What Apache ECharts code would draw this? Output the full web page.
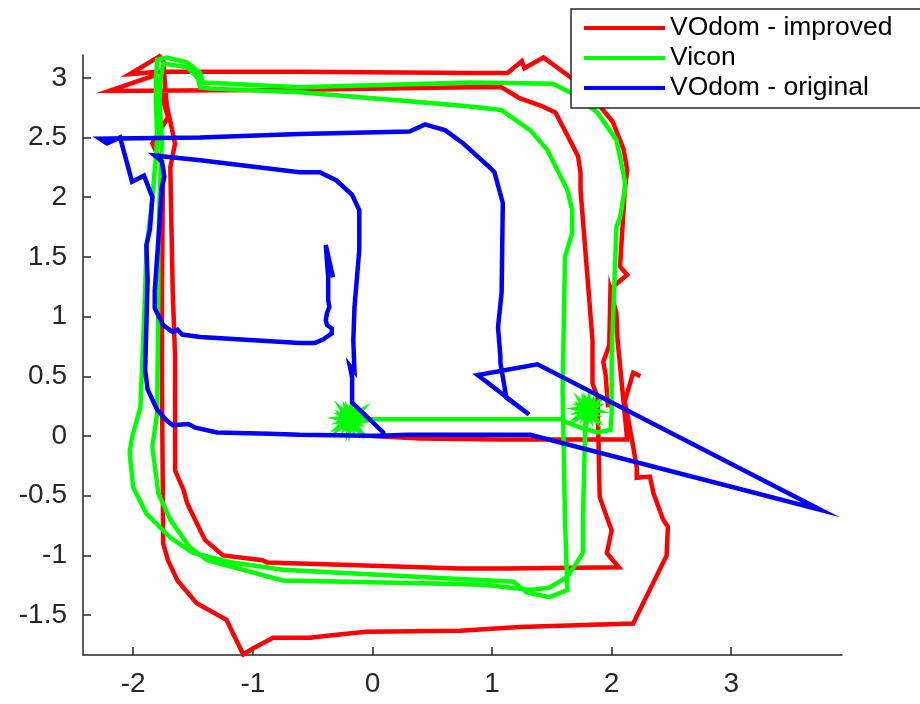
<!DOCTYPE html>
<html>
<head>
<meta charset="utf-8">
<script src="https://cdn.jsdelivr.net/npm/echarts@6/dist/echarts.min.js"></script>
<style>
  html, body { margin: 0; padding: 0; background: #fff; }
  #chart { width: 920px; height: 704px; }
</style>
</head>
<body>
<div id="chart"></div>
<script>
// Trajectory names, in legend order
const seriesNames = ['VOdom - improved', 'Vicon', 'VOdom - original'];

// Tick values on both axes
const xTicks = [-2, -1, 0, 1, 2, 3];
const yTicks = [-1.5, -1, -0.5, 0, 0.5, 1, 1.5, 2, 2.5, 3];

// Visual odometry with the improved pipeline, [x, y] in metres
const vodomImproved = [
  [0.00, 0.00], [0.40, -0.02], [1.07, -0.03], [1.61, -0.03], [2.13, -0.03],
  [2.05, 0.80], [2.04, 1.03], [1.99, 1.22], [1.98, 0.76], [1.93, 0.62],
  [1.95, 0.51], [1.97, 0.24], [1.95, 0.51], [1.93, 0.62], [1.98, 0.76],
  [2.00, 1.24], [2.13, 1.35], [2.07, 1.42],
  [2.11, 2.06], [2.13, 2.23], [2.10, 2.40], [2.01, 2.63], [1.88, 2.79],
  [1.65, 3.01], [1.43, 3.17], [1.27, 3.08], [1.25, 3.14], [1.13, 3.04],
  [0.82, 3.04], [-0.61, 3.05], [-1.75, 3.05], [-1.80, 3.05], [-2.03, 3.03],
  [-1.78, 3.18], [-1.75, 3.15], [-1.72, 2.77], [-1.65, 2.45], [-1.69, 2.25],
  [-1.68, 1.73], [-1.67, 1.22], [-1.65, 0.66], [-1.65, -0.29], [-1.58, -0.45],
  [-1.55, -0.56], [-1.44, -0.79], [-1.40, -0.87], [-1.25, -1.00], [-0.92, -1.04],
  [-0.88, -1.06], [-0.19, -1.08], [0.73, -1.11], [1.13, -1.11], [2.06, -1.10],
  [1.96, -0.98], [2.00, -0.79], [1.96, -0.68], [1.90, -0.51], [1.89, -0.03],
  [1.88, 0.33], [1.84, 0.44], [1.84, 0.53], [1.84, 0.80], [1.74, 2.06],
  [1.74, 2.20], [1.72, 2.34], [1.65, 2.48], [1.53, 2.71], [1.40, 2.77],
  [1.23, 2.83], [1.08, 2.92], [0.82, 2.92], [-0.61, 2.90], [-2.20, 2.89],
  [-1.82, 3.02], [-1.78, 2.92], [-1.71, 2.67], [-1.84, 2.45], [-1.75, 2.25],
  [-1.76, 1.22], [-1.76, 0.47], [-1.75, -0.79], [-1.75, -0.90], [-1.71, -1.04],
  [-1.63, -1.21], [-1.58, -1.27], [-1.47, -1.40], [-1.22, -1.54], [-1.08, -1.83],
  [-1.00, -1.78], [-0.83, -1.69], [-0.52, -1.69], [-0.36, -1.67], [-0.05, -1.64],
  [0.73, -1.63], [1.23, -1.60], [2.18, -1.57], [2.46, -1.00], [2.47, -0.76],
  [2.43, -0.70], [2.35, -0.48], [2.32, -0.34], [2.21, -0.35], [2.21, -0.26],
  [2.15, 0.08], [2.11, 0.29], [2.18, 0.53], [2.24, 0.50]
];

// Motion-capture ground truth: noisy samples while resting at the start
const viconStartBurst = [
  [-0.100, 0.140], [-0.254, 0.167], [-0.121, 0.068], [-0.219, 0.215], [-0.193, 0.050],
  [-0.160, 0.203], [-0.272, 0.066], [-0.114, 0.166], [-0.280, 0.146], [-0.128, 0.108],
  [-0.254, 0.217], [-0.167, 0.064], [-0.181, 0.230], [-0.224, 0.079], [-0.103, 0.208],
  [-0.267, 0.119], [-0.101, 0.127], [-0.250, 0.176], [-0.131, 0.059], [-0.208, 0.218],
  [-0.206, 0.051], [-0.152, 0.199], [-0.273, 0.084], [-0.111, 0.155]
];

// Motion-capture ground truth: the two laps
const viconPath = [
  [-0.04, 0.14], [0.56, 0.14], [1.58, 0.14], [1.61, 0.12], [1.74, 0.07],
  [1.88, 0.03], [1.99, 0.05], [2.00, 0.19], [2.00, 0.66], [2.04, 1.75],
  [2.07, 1.83], [2.11, 2.06], [2.11, 2.14], [2.04, 2.48], [1.88, 2.71],
  [1.65, 2.88], [1.51, 2.95], [0.82, 2.96], [-0.61, 2.92], [-1.42, 2.96],
  [-1.44, 3.04], [-1.55, 3.13], [-1.72, 3.17], [-1.80, 3.15], [-1.81, 3.00],
  [-1.81, 2.81], [-1.80, 2.48], [-1.84, 1.98], [-1.89, 1.56], [-1.90, 1.22],
  [-1.94, 0.24], [-2.01, -0.01], [-2.03, -0.14], [-2.00, -0.43], [-1.89, -0.65],
  [-1.69, -0.85], [-1.50, -0.98], [-1.17, -1.06], [-0.75, -1.12], [0.56, -1.19],
  [1.18, -1.22], [1.29, -1.31], [1.48, -1.35], [1.63, -1.29], [1.61, -0.70],
  [1.59, 0.39], [1.61, 1.50], [1.67, 1.70], [1.67, 1.89], [1.63, 2.06],
  [1.59, 2.14], [1.46, 2.40], [1.32, 2.56], [1.08, 2.73], [0.82, 2.76],
  [0.23, 2.81], [-0.61, 2.88], [-1.36, 2.91], [-1.44, 2.92], [-1.46, 3.00],
  [-1.55, 3.09], [-1.75, 3.12], [-1.77, 3.00], [-1.78, 2.81], [-1.76, 2.48],
  [-1.78, 1.98], [-1.79, 1.56], [-1.79, 1.22], [-1.80, 0.19], [-1.84, -0.09],
  [-1.79, -0.48], [-1.69, -0.70], [-1.53, -0.93], [-1.38, -1.04], [-0.75, -1.21],
  [0.73, -1.24], [0.98, -1.25], [1.32, -1.29], [1.48, -1.27], [1.63, -1.18],
  [1.76, -0.98], [1.76, -0.70], [1.78, 0.11], [1.80, 0.22]
];

// Motion-capture ground truth: noisy samples while resting at the end
const viconEndBurst = [
  [1.880, 0.220], [1.745, 0.243], [1.859, 0.159], [1.775, 0.285], [1.797, 0.140],
  [1.825, 0.274], [1.733, 0.160], [1.866, 0.243], [1.720, 0.226], [1.853, 0.193],
  [1.745, 0.285], [1.820, 0.153], [1.808, 0.300], [1.771, 0.168], [1.871, 0.275],
  [1.732, 0.202], [1.879, 0.209], [1.749, 0.251], [1.850, 0.151], [1.784, 0.288],
  [1.786, 0.141], [1.833, 0.270], [1.730, 0.172], [1.869, 0.233]
];

// Visual odometry with the original pipeline
const vodomOriginal = [
  [0.00, 0.00], [0.30, 0.01], [0.65, 0.01], [1.32, 0.01], [3.75, -0.62],
  [1.38, 0.60], [0.88, 0.51], [1.31, 0.18], [1.12, 0.32], [1.07, 0.61],
  [1.07, 0.66], [1.05, 0.91], [1.08, 1.20], [1.09, 1.95], [1.02, 2.21],
  [0.98, 2.25], [0.76, 2.45], [0.61, 2.56], [0.44, 2.61], [0.31, 2.55],
  [-0.61, 2.53], [-1.44, 2.50], [-2.28, 2.49], [-2.22, 2.45], [-2.11, 2.50],
  [-2.01, 2.13], [-1.91, 2.18], [-1.84, 2.00], [-1.86, 1.73], [-1.89, 1.60],
  [-1.88, 1.31], [-1.90, 0.55], [-1.88, 0.39], [-1.80, 0.22], [-1.72, 0.13],
  [-1.67, 0.09], [-1.54, 0.10], [-1.48, 0.07], [-1.30, 0.03], [-0.86, 0.02],
  [-0.61, 0.01], [0.09, 0.00], [0.09, 0.03], [-0.17, 0.28], [-0.17, 0.49],
  [-0.19, 0.59], [-0.15, 0.54], [-0.16, 0.80], [-0.15, 1.08], [-0.11, 1.56],
  [-0.11, 1.83], [-0.11, 1.89], [-0.17, 2.02], [-0.30, 2.14], [-0.44, 2.21],
  [-0.61, 2.21], [-1.44, 2.31], [-1.82, 2.35], [-1.76, 2.30], [-1.74, 2.17],
  [-1.76, 2.09], [-1.79, 1.64], [-1.82, 1.22], [-1.82, 1.07], [-1.75, 0.93],
  [-1.67, 0.87], [-1.63, 0.89], [-1.59, 0.85], [-1.44, 0.83], [-0.61, 0.78],
  [-0.48, 0.78], [-0.41, 0.81], [-0.34, 0.86], [-0.34, 0.90], [-0.38, 0.93],
  [-0.39, 0.97], [-0.38, 1.03], [-0.36, 1.08], [-0.37, 1.14], [-0.37, 1.33],
  [-0.39, 1.60], [-0.33, 1.33]
];

const viconData = viconStartBurst.concat(viconPath, viconEndBurst);

const colors = ['#ff0000', '#00ff00', '#0000ff'];
const axisColor = '#262626';
const font = "'Liberation Sans', Helvetica, Arial, sans-serif";

function trajectory(name, data, color, z) {
  return {
    name: name,
    type: 'line',
    data: data,
    showSymbol: false,
    symbol: 'none',
    smooth: false,
    z: z,
    silent: true,
    itemStyle: { color: color },
    lineStyle: { color: color, width: 4.5, join: 'miter', miterLimit: 10 }
  };
}

const chart = echarts.init(document.getElementById('chart'), null, { renderer: 'canvas' });

chart.setOption({
  animation: false,
  backgroundColor: '#ffffff',
  grid: { left: 83, right: 78, top: 55, bottom: 49, containLabel: false },
  xAxis: {
    type: 'value',
    min: -2.42,
    max: 3.926,
    axisLine: { show: true, onZero: false, lineStyle: { color: axisColor, width: 1.5 } },
    axisTick: { show: true, inside: true, length: 8, customValues: xTicks,
      lineStyle: { color: axisColor, width: 1.5 } },
    axisLabel: { customValues: xTicks, margin: 15, color: axisColor, fontSize: 28, fontFamily: font,
      formatter: function (v) { return String(v); } },
    splitLine: { show: false }
  },
  yAxis: {
    type: 'value',
    min: -1.834,
    max: 3.191,
    axisLine: { show: true, onZero: false, lineStyle: { color: axisColor, width: 1.5 } },
    axisTick: { show: true, inside: true, length: 8, customValues: yTicks,
      lineStyle: { color: axisColor, width: 1.5 } },
    axisLabel: { customValues: yTicks, margin: 16, color: axisColor, fontSize: 28, fontFamily: font,
      formatter: function (v) { return String(v); } },
    splitLine: { show: false }
  },
  legend: {
    data: seriesNames,
    left: 571,
    top: 9,
    orient: 'vertical',
    icon: 'rect',
    itemWidth: 81,
    itemHeight: 4,
    itemGap: 0,
    padding: [4, 40, 5, 13],
    borderColor: axisColor,
    borderWidth: 1.5,
    backgroundColor: '#ffffff',
    selectedMode: false,
    textStyle: { fontSize: 26.5, fontFamily: font, color: '#000000', lineHeight: 30 }
  },
  series: [
    trajectory(seriesNames[0], vodomImproved, colors[0], 2),
    trajectory(seriesNames[1], viconData, colors[1], 3),
    trajectory(seriesNames[2], vodomOriginal, colors[2], 4)
  ]
});
</script>
</body>
</html>
